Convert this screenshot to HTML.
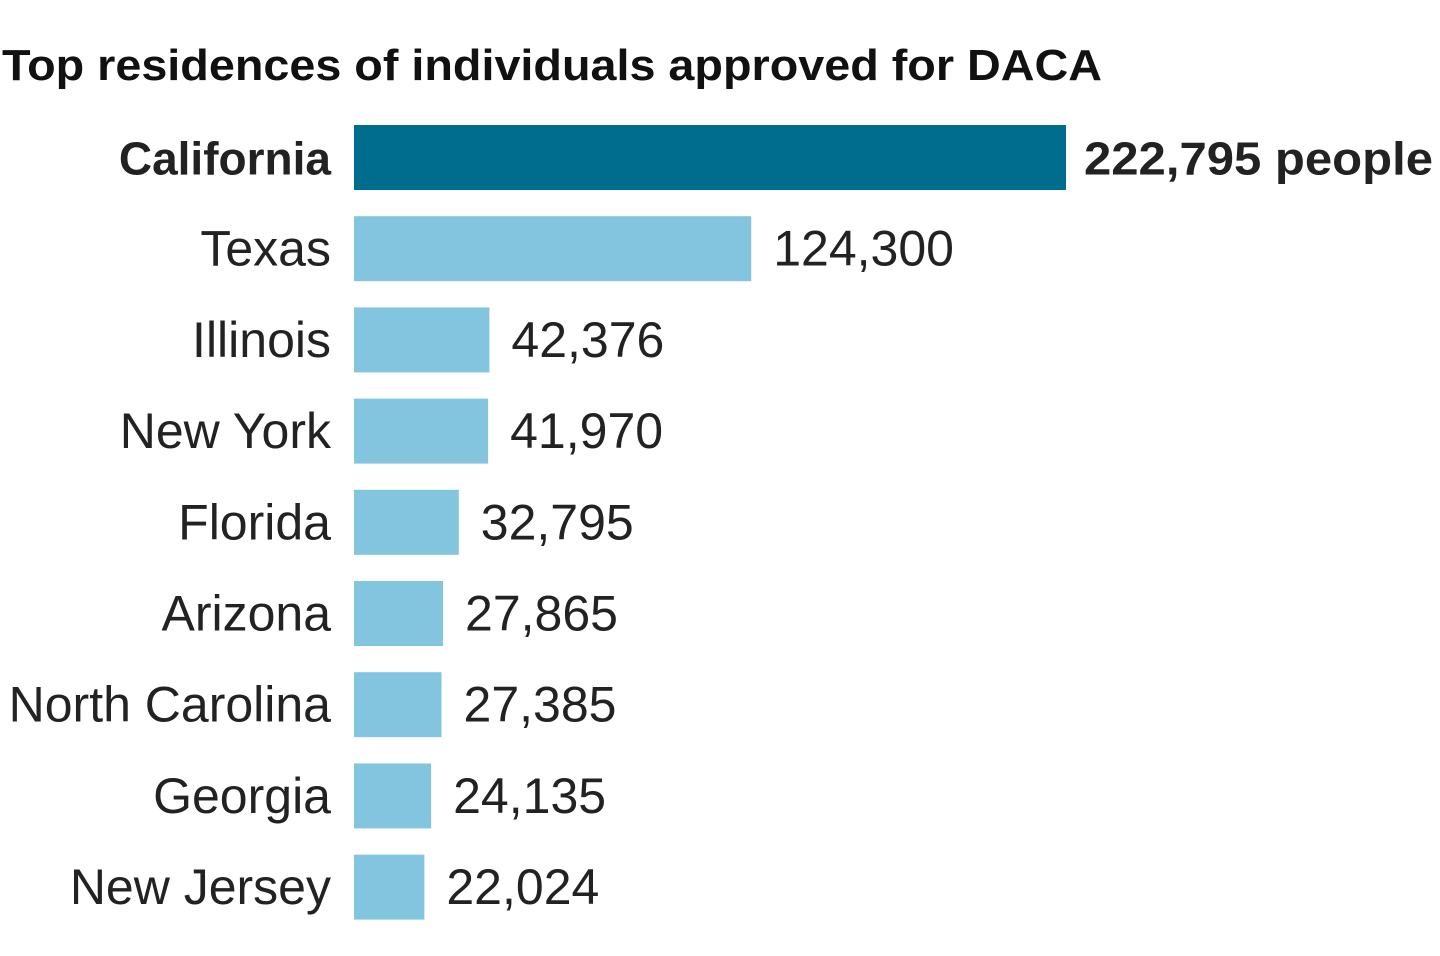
<!DOCTYPE html>
<html><head><meta charset="utf-8"><style>
html,body{margin:0;padding:0;background:#fff;}
svg{display:block;font-family:"Liberation Sans",sans-serif;}
</style></head><body>
<svg id="chart" width="1440" height="956">
<text x="2" y="80" font-size="44" font-weight="bold" fill="#111" textLength="1100" lengthAdjust="spacingAndGlyphs">Top residences of individuals approved for DACA</text>
<g id="bars"></g>
</svg>
<script>
const states = ["California","Texas","Illinois","New York","Florida","Arizona","North Carolina","Georgia","New Jersey"];
const values = [222795,124300,42376,41970,32795,27865,27385,24135,22024];
const valueLabels = ["222,795 people","124,300","42,376","41,970","32,795","27,865","27,385","24,135","22,024"];
const x0=354, xMax=222795, wMax=712;
const xScale=v=>x0+v/xMax*wMax;
const yTop=i=>125+i*91.2;
const barH=65;
const g=document.getElementById('bars');
const ns="http://www.w3.org/2000/svg";
states.forEach((s,i)=>{
  const hi=i===0;
  const r=document.createElementNS(ns,'rect');
  
  
  r.setAttribute('x',x0);r.setAttribute('y',yTop(i));
  r.setAttribute('width',xScale(values[i])-x0);r.setAttribute('height',barH);
  r.setAttribute('fill',hi?'#006d8f':'#83c5df');
  g.appendChild(r);
  const t=document.createElementNS(ns,'text');
  
  
  t.setAttribute('x',331);t.setAttribute('y',yTop(i)+barH/2+17);
  t.setAttribute('text-anchor','end');t.setAttribute('font-size',hi?'46':'50');
  t.setAttribute('fill','#222');
  if(hi)t.setAttribute('font-weight','bold');
  t.textContent=s;g.appendChild(t);
  const v=document.createElementNS(ns,'text');
  
  
  v.setAttribute('x',xScale(values[i])+(hi?18:22));v.setAttribute('y',yTop(i)+barH/2+17);
  v.setAttribute('font-size',hi?'46':'50');v.setAttribute('fill','#222');
  if(hi){v.setAttribute('font-weight','bold');v.setAttribute('textLength','349');v.setAttribute('lengthAdjust','spacingAndGlyphs');}
  v.textContent=valueLabels[i];g.appendChild(v);
});
</script>
</body></html>
